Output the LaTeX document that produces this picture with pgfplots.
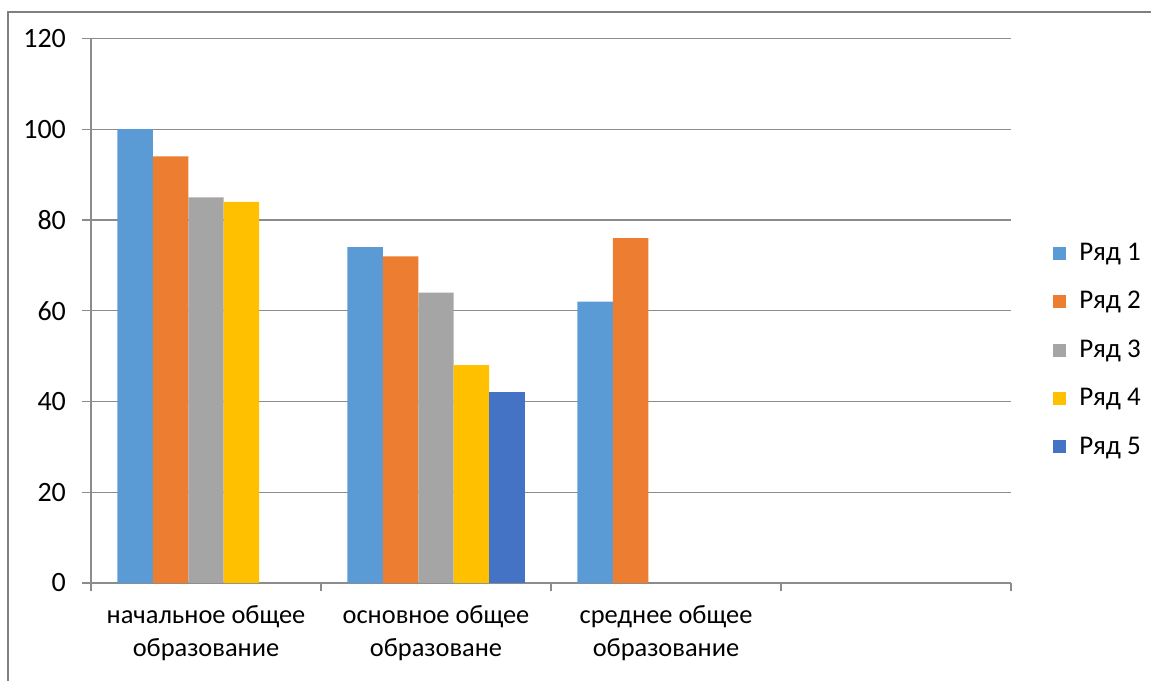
\documentclass[border=0pt]{standalone}
\usepackage{fontspec}
\setmainfont{Carlito}
\usepackage{pgfplots}
\pgfplotsset{compat=1.18}

\definecolor{c1}{HTML}{5B9BD5}
\definecolor{c2}{HTML}{ED7D31}
\definecolor{c3}{HTML}{A5A5A5}
\definecolor{c4}{HTML}{FFC000}
\definecolor{c5}{HTML}{4472C4}
\definecolor{gridgray}{RGB}{140,140,140}
\definecolor{framegray}{RGB}{128,128,128}

\begin{document}
\begin{tikzpicture}
% page = 1151x680 px at 0.5pt/px, axis origin at pixel (91,583)
\useasboundingbox (-45.5pt,-48.5pt) rectangle (530pt,291.5pt);
\draw[framegray, line width=1pt] (-41.5pt,-49pt) -- (-41.5pt,285.5pt) -- (531pt,285.5pt);
\begin{axis}[
    scale only axis,
    width=460pt, height=272.25pt,
    xmin=0, xmax=4, ymin=0, ymax=120,
    axis lines*=left,
    axis line style={gridgray, line width=0.6pt},
    tick align=outside,
    ytick={0,20,...,120},
    ymajorgrids=true,
    grid style={gridgray, line width=0.6pt},
    major tick length=4.5pt,
    minor tick length=4pt,
    tick style={gridgray, line width=0.6pt},
    xtick={0.5,1.5,2.5},
    xticklabels={{начальное общее\\образование},{основное общее\\образоване},{среднее общее\\образование}},
    major x tick style={draw=none},
    minor xtick={0,1,2,3,4},
    xticklabel style={align=center, font=\fontsize{13.2}{16.6}\selectfont, yshift=-3pt},
    yticklabel style={font=\fontsize{14}{16.5}\selectfont, xshift=-4.5pt},
    /pgf/number format/assume math mode=true,
    legend style={at={(axis description cs:1,0.4277)}, anchor=west, xshift=21pt,
        draw=none, fill=none, font=\fontsize{13.5}{16}\selectfont,
        row sep=10pt, inner sep=0pt},
    legend cell align=left,
    legend image code/.code={\fill[#1] (0pt,-3.25pt) rectangle (6.5pt,3.25pt); \path (11pt,0pt);},
]
\addplot[ybar, fill=c1, draw=none, bar width=0.154, bar shift=-0.308]
    coordinates {(0.5,100) (1.5,74) (2.5,62)};
\addplot[ybar, fill=c2, draw=none, bar width=0.154, bar shift=-0.154]
    coordinates {(0.5,94) (1.5,72) (2.5,76)};
\addplot[ybar, fill=c3, draw=none, bar width=0.154, bar shift=0]
    coordinates {(0.5,85) (1.5,64)};
\addplot[ybar, fill=c4, draw=none, bar width=0.154, bar shift=0.154]
    coordinates {(0.5,84) (1.5,48)};
\addplot[ybar, fill=c5, draw=none, bar width=0.154, bar shift=0.308]
    coordinates {(1.5,42)};
\legend{Ряд 1,Ряд 2,Ряд 3,Ряд 4,Ряд 5}
\end{axis}
\end{tikzpicture}
\end{document}
